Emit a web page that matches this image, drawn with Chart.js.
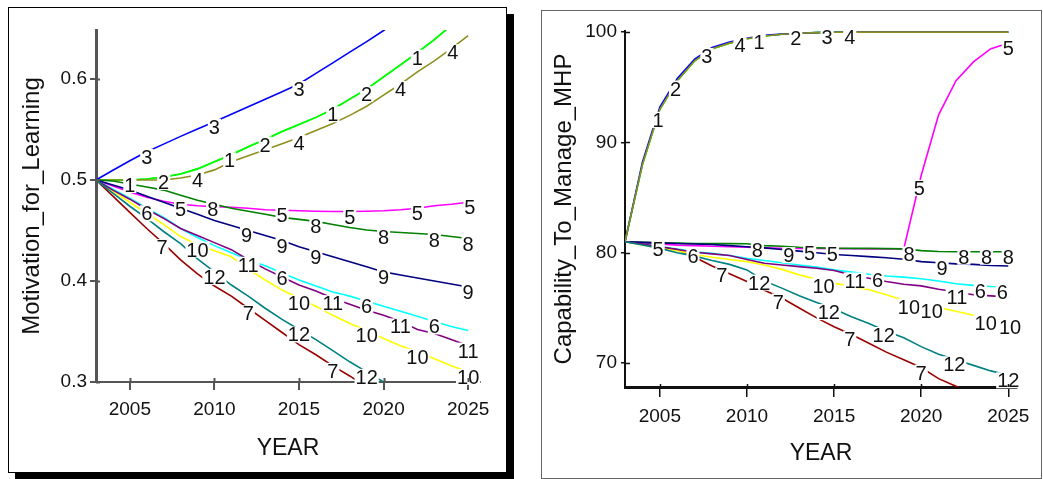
<!DOCTYPE html>
<html>
<head>
<meta charset="utf-8">
<script src="https://cdn.jsdelivr.net/npm/chart.js@4.4.0/dist/chart.umd.min.js"></script>
<style>
  body { margin: 0; background: #fff; width: 1043px; height: 479px; position: relative; overflow: hidden; }
  .panel { position: absolute; box-sizing: border-box; background: #fff; }
  #leftPanel { left: 8px; top: 7px; width: 499px; height: 466px; border: 1px solid #000; box-shadow: 7px 7px 0 #000; }
  #rightPanel { left: 541px; top: 10px; width: 501px; height: 469px; border: 1px solid #666; }
  canvas { position: absolute; }
</style>
</head>
<body>
<div class="panel" id="leftPanel"></div>
<div class="panel" id="rightPanel"></div>
<canvas id="leftChart" width="498" height="465" style="left:8px;top:7px"></canvas>
<canvas id="rightChart" width="500" height="468" style="left:541px;top:10px"></canvas>
<script>
const FONT = '"Liberation Sans", Arial, sans-serif';

const YEARS = [2003, 2004, 2005, 2006, 2007, 2008, 2009, 2010, 2011, 2012, 2013, 2014,
               2015, 2016, 2017, 2018, 2019, 2020, 2021, 2022, 2023, 2024, 2025];
const X_TICKS = [2005, 2010, 2015, 2020, 2025];
const MOTIVATION_TICKS = [0.3, 0.4, 0.5, 0.6];
const CAPABILITY_TICKS = [70, 80, 90, 100];

const SERIES_NAMES = ['1', '2', '3', '4', '5', '6', '7', '8', '9', '10', '11', '12'];
const SERIES_COLORS = ['#00ff00', '#00ff00', '#0000ff', '#8f8f1f', '#ff00ff', '#00ffff',
                       '#990000', '#008000', '#000080', '#ffff00', '#800080', '#008080'];

// Motivation_for_Learning, one array per run
const mot1  = [.5, .5, .5, .501, .503, .506, .511, .518, .525, .533, .540, .548, .555, .562, .570, .580, .590, .602, .614, .626, .639, .653, .667];
const mot2  = [.5, .5, .5, .501, .503, .506, .511, .518, .525, .533, .540, .548, .555, .562, .570, .580, .590, .602, .614, .626, .639, .653, .667];
const mot3  = [.5, .5096, .519, .528, .5355, .5432, .5504, .5577, .565, .5725, .58, .5874, .595, .6055, .616, .6266, .637, .648, .66, .672, .685, .698, .711];
const mot4  = [.5, .5, .5, .5, .5, .502, .505, .51, .518, .524, .53, .536, .542, .549, .556, .564, .573, .584, .595, .607, .618, .630, .643];
const mot5  = [.5, .494, .488, .483, .479, .476, .4745, .4735, .473, .472, .4705, .47, .4695, .469, .4688, .4688, .469, .4695, .4705, .472, .4745, .476, .478];
const mot6  = [.5, .491, .482, .472, .463, .452, .443, .435, .428, .421, .415, .408, .401, .395, .389, .385, .38, .375, .37, .365, .36, .355, .351];
const mot7  = [.5, .484, .468, .452, .437, .421, .407, .395, .385, .373, .361, .349, .337, .327, .316, .306, .295, .285, .275, .265, .255, .245, .235];
const mot8  = [.5, .499, .496, .493, .49, .485, .48, .476, .472, .469, .466, .463, .461, .459, .456, .453, .4505, .449, .448, .447, .446, .444, .442];
const mot9  = [.5, .495, .49, .484, .478, .472, .466, .46, .455, .45, .445, .44, .434, .429, .424, .419, .414, .409, .406, .403, .4, .397, .394];
const mot10 = [.5, .489, .478, .467, .456, .444, .436, .43, .424, .412, .401, .391, .383, .375, .366, .358, .351, .343, .336, .33, .323, .316, .31];
const mot11 = [.5, .49, .481, .471, .462, .452, .445, .438, .431, .421, .412, .404, .396, .39, .383, .377, .371, .366, .36, .352, .348, .342, .336];
const mot12 = [.5, .487, .474, .462, .449, .437, .422, .409, .396, .385, .373, .362, .352, .342, .331, .32, .31, .3, .29, .281, .272, .263, .254];

// Capability_To_Manage_MHP, one array per run
const cap1  = [81, 88.0, 93.0, 95.6, 97.4, 98.5, 99.0, 99.4, 99.65, 99.8, 99.9, 99.95, 99.98, 100, 100, 100, 100, 100, 100, 100, 100, 100, 100];
const cap2  = [81, 88.0, 93.0, 95.6, 97.4, 98.5, 99.0, 99.4, 99.65, 99.8, 99.9, 99.95, 99.98, 100, 100, 100, 100, 100, 100, 100, 100, 100, 100];
const cap3  = [81, 88.2, 93.2, 95.8, 97.55, 98.6, 99.1, 99.45, 99.7, 99.82, 99.9, 99.95, 99.98, 100, 100, 100, 100, 100, 100, 100, 100, 100, 100];
const cap4  = [81, 88.0, 93.0, 95.6, 97.4, 98.5, 99.0, 99.4, 99.65, 99.8, 99.9, 99.95, 99.98, 100, 100, 100, 100, 100, 100, 100, 100, 100, 100];
const cap5  = [81, 80.9, 80.8, 80.7, 80.65, 80.6, 80.55, 80.5, 80.45, 80.42, 80.4, 80.4, 80.38, 80.37, 80.36, 80.35, 80.35, 87.0, 92.5, 95.6, 97.3, 98.5, 99.0];
const cap6  = [81, 80.8, 80.6, 80.35, 80.1, 79.95, 79.75, 79.5, 79.3, 79.1, 78.9, 78.7, 78.45, 78.25, 78.05, 77.9, 77.8, 77.65, 77.45, 77.2, 77.05, 76.95, 76.9];
const cap7  = [81, 80.75, 80.5, 80.3, 79.6, 78.8, 78.1, 77.4, 76.6, 75.9, 75.0, 74.1, 73.3, 72.6, 71.8, 71.0, 70.3, 69.6, 68.6, 67.9, 67.2, 66.5, 65.8];
const cap8  = [81, 80.95, 80.9, 80.88, 80.85, 80.84, 80.83, 80.82, 80.65, 80.6, 80.5, 80.45, 80.42, 80.4, 80.4, 80.38, 80.36, 80.2, 80.12, 80.1, 80.1, 80.1, 80.1];
const cap9  = [81, 80.95, 80.9, 80.85, 80.8, 80.75, 80.65, 80.55, 80.45, 80.3, 80.15, 80.0, 79.85, 79.75, 79.65, 79.55, 79.42, 79.2, 79.1, 79.0, 78.95, 78.85, 78.8];
const cap10 = [81, 80.7, 80.45, 80.2, 79.85, 79.6, 79.4, 79.2, 78.9, 78.5, 78.0, 77.6, 77.25, 76.95, 76.65, 76.2, 75.7, 75.3, 75.05, 74.7, 74.35, 74.0, 73.7];
const cap11 = [81, 80.8, 80.55, 80.3, 80.05, 79.9, 79.75, 79.4, 79.05, 78.9, 78.75, 78.6, 78.4, 78.0, 77.7, 77.4, 77.15, 77.0, 76.7, 76.45, 76.2, 76.1, 76.0];
const cap12 = [81, 80.7, 80.4, 80.0, 79.7, 79.3, 78.95, 78.45, 77.45, 76.8, 76.1, 75.5, 74.9, 74.2, 73.6, 72.9, 72.3, 71.5, 70.8, 70.3, 69.8, 69.3, 68.9];

// years at which each run's number is printed on its line
const motLabelYears = [
  [2005, 2010.9, 2017, 2022], [2007, 2013, 2019], [2006, 2010, 2015], [2009, 2015, 2021, 2024.1],
  [2008, 2014, 2018, 2022, 2025.1], [2006, 2014, 2019, 2023], [2006.9, 2012, 2017],
  [2009.9, 2016, 2020, 2023, 2025], [2011.9, 2014, 2016, 2020, 2025], [2009, 2015, 2019, 2022, 2025],
  [2012, 2017, 2021, 2025], [2010, 2015, 2019]
];
const capLabelYears = [
  [2004.9, 2010.7], [2005.9, 2012.8], [2007.7, 2014.6], [2009.6, 2015.9],
  [2004.9, 2013.6, 2014.9, 2019.9, 2025], [2006.9, 2017.5, 2023.4, 2024.65],
  [2008.55, 2011.8, 2015.9, 2020], [2010.6, 2019.3, 2022.45, 2023.75, 2025],
  [2012.4, 2021.2], [2014.4, 2019.3, 2020.6, 2023.7, 2025.1], [2016.2, 2022.05],
  [2010.7, 2014.7, 2017.85, 2021.9, 2025]
];

function valueAt(points, t) {
  if (t <= points[0].x) return points[0].y;
  for (let k = 1; k < points.length; k++) {
    if (t <= points[k].x) {
      const a = points[k - 1], b = points[k];
      return a.y + (b.y - a.y) * (t - a.x) / (b.x - a.x);
    }
  }
  return points[points.length - 1].y;
}

// numbers written on the lines, with a white box behind them
const lineNumbers = {
  id: 'lineNumbers',
  afterDatasetsDraw(chart, args, opts) {
    const { ctx } = chart;
    const x = chart.scales.x, y = chart.scales.y;
    ctx.save();
    ctx.font = '20px ' + FONT;
    ctx.textAlign = 'center';
    ctx.textBaseline = 'alphabetic';
    opts.years.forEach((years, i) => {
      const pts = chart.data.datasets[i].data;
      years.forEach(t => {
        const px = x.getPixelForValue(t);
        const py = y.getPixelForValue(valueAt(pts, t)) + opts.offset;
        const txt = SERIES_NAMES[i];
        const w = ctx.measureText(txt).width;
        ctx.fillStyle = '#fff';
        ctx.fillRect(px - w / 2 - 1, py - 8, w + 2, 16);
        ctx.fillStyle = '#111';
        ctx.fillText(txt, px, py + 7);
      });
    });
    ctx.restore();
  }
};

// short part of each tick mark that sits inside the plot
const innerTicks = {
  id: 'innerTicks',
  afterDraw(chart, args, opts) {
    const { ctx, chartArea } = chart;
    const x = chart.scales.x, y = chart.scales.y;
    ctx.save();
    ctx.strokeStyle = opts.color;
    ctx.lineWidth = opts.width;
    ctx.beginPath();
    x.ticks.forEach(t => {
      const px = Math.round(x.getPixelForValue(t.value)) + 0.5;
      ctx.moveTo(px, chartArea.bottom);
      ctx.lineTo(px, chartArea.bottom - opts.inX);
    });
    y.ticks.forEach(t => {
      const py = Math.round(y.getPixelForValue(t.value)) + 0.5;
      ctx.moveTo(chartArea.left, py);
      ctx.lineTo(chartArea.left + opts.inY, py);
    });
    ctx.stroke();
    ctx.restore();
  }
};

function makeChart(id, runs, labelYears, c) {
  const datasets = runs.map((vals, i) => ({
    label: SERIES_NAMES[i],
    data: YEARS.map((yr, k) => ({ x: yr, y: vals[k] })),
    borderColor: SERIES_COLORS[i],
    borderWidth: 1.6,
    pointRadius: 0,
    tension: 0,
    fill: false,
    order: runs.length - i
  }));
  return new Chart(document.getElementById(id), {
    type: 'line',
    data: { datasets },
    plugins: [lineNumbers, innerTicks],
    options: {
      responsive: false,
      animation: false,
      events: [],
      layout: { padding: c.padding },
      plugins: {
        legend: { display: false },
        tooltip: { enabled: false },
        lineNumbers: { years: labelYears, offset: 5 },
        innerTicks: { color: c.axisColor, width: c.tickWidth, inX: c.inX, inY: c.inY }
      },
      scales: {
        x: {
          type: 'linear',
          min: 2003,
          max: c.xMax,
          afterBuildTicks: s => { s.ticks = X_TICKS.map(v => ({ value: v })); },
          afterFit: s => { s.height = c.xHeight; },
          grid: { drawOnChartArea: false, tickLength: c.xTickLen, color: c.axisColor, lineWidth: c.tickWidth },
          border: { color: c.axisColor, width: c.xBorder },
          ticks: { color: '#111', font: { size: 19, family: FONT }, padding: 8, maxRotation: 0,
                   callback: v => String(v) },
          title: { display: true, text: 'YEAR', color: '#111', font: { size: 23, family: FONT },
                   padding: { top: 0, bottom: c.xTitlePad } }
        },
        y: {
          type: 'linear',
          min: c.yMin,
          max: c.yMax,
          afterBuildTicks: s => { s.ticks = c.yTicks.map(v => ({ value: v })); },
          afterFit: s => { s.width = c.yWidth; },
          grid: { drawOnChartArea: false, tickLength: c.yTickLen, color: c.axisColor, lineWidth: c.tickWidth },
          border: { color: c.axisColor, width: c.yBorder },
          ticks: { color: '#111', font: { size: 19, family: FONT }, padding: c.yTickPad,
                   callback: c.yFormat },
          title: { display: true, text: c.yTitle, color: '#111', font: { size: 24, family: FONT },
                   padding: { top: c.yTitlePad, bottom: 0 } }
        }
      }
    }
  });
}

makeChart('leftChart',
  [mot1, mot2, mot3, mot4, mot5, mot6, mot7, mot8, mot9, mot10, mot11, mot12],
  motLabelYears, {
    padding: { left: 0, top: 23, right: 26, bottom: 0 },
    xMax: 2025.7, yMin: 0.3, yMax: 0.6485, yTicks: MOTIVATION_TICKS,
    yFormat: v => v.toFixed(1), yTitle: 'Motivation_for_Learning',
    xHeight: 90, yWidth: 88, xTickLen: 8, yTickLen: 6, inX: 4, inY: 4,
    axisColor: '#555', tickWidth: 2, xBorder: 2, yBorder: 3,
    yTickPad: 3, xTitlePad: 10, yTitlePad: 10
  });

makeChart('rightChart',
  [cap1, cap2, cap3, cap4, cap5, cap6, cap7, cap8, cap9, cap10, cap11, cap12],
  capLabelYears, {
    padding: { left: 0, top: 21, right: 24, bottom: 0 },
    xMax: 2025.5, yMin: 67.84, yMax: 100.1, yTicks: CAPABILITY_TICKS,
    yFormat: v => String(v), yTitle: 'Capability_To_Manage_MHP',
    xHeight: 91, yWidth: 84, xTickLen: 10, yTickLen: 4, inX: 3, inY: 5,
    axisColor: '#111', tickWidth: 1.5, xBorder: 3, yBorder: 2,
    yTickPad: 4, xTitlePad: 11, yTitlePad: 9
  });
</script>
</body>
</html>
